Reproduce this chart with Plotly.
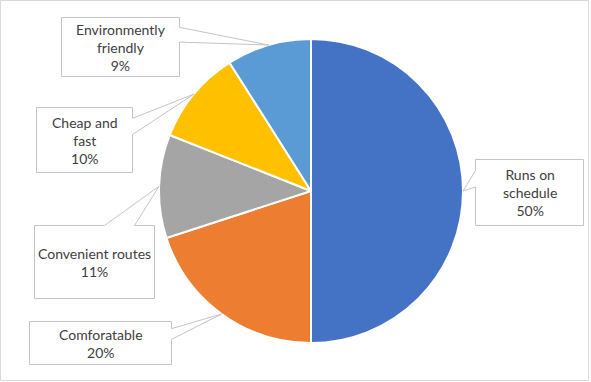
import math
import plotly.graph_objects as go

# ---- data ----
categories = ["Runs on schedule", "Comforatable", "Convenient routes", "Cheap and fast", "Environmently friendly"]
label_text = ["Runs on<br>schedule", "Comforatable", "Convenient routes", "Cheap and<br>fast", "Environmently<br>friendly"]
values = [50, 20, 11, 10, 9]
colors = ["#4472C4", "#ED7D31", "#A5A5A5", "#FFC000", "#5B9BD5"]

# ---- layout (pixels) ----
W, H = 591, 382
CX, CY, R = 311, 191, 152
# label boxes: (left, top, right, bottom) in pixels
boxes = [
    (475.5, 159.5, 583.5, 225.5),
    (29.5, 321.5, 171.5, 364.5),
    (34.5, 225.5, 154.5, 298.5),
    (36.5, 107.5, 132.5, 172.5),
    (61.5, 17.5, 179.5, 76.5),
]


def P(x, y):
    return f"{x / W:.5f},{1 - y / H:.5f}"


def callout_path(box, tx, ty):
    l, t, r, b = box
    w, h = r - l, b - t
    cx, cy = (l + r) / 2, (t + b) / 2
    dxp, dyp = tx - cx, ty - cy
    x1 = l + w * (7 if dxp > 0 else 2) / 12
    x2 = l + w * (10 if dxp > 0 else 5) / 12
    y1 = t + h * (7 if dyp > 0 else 2) / 12
    y2 = t + h * (10 if dyp > 0 else 5) / 12
    horiz = abs(dxp * h / w) > abs(dyp)
    pts = [(l, t)]
    if not horiz and dyp < 0:
        pts += [(x1, t), (tx, ty), (x2, t)]
    pts.append((r, t))
    if horiz and dxp > 0:
        pts += [(r, y1), (tx, ty), (r, y2)]
    pts.append((r, b))
    if not horiz and dyp > 0:
        pts += [(x2, b), (tx, ty), (x1, b)]
    pts.append((l, b))
    if horiz and dxp < 0:
        pts += [(l, y2), (tx, ty), (l, y1)]
    return "M " + " L ".join(P(x, y) for x, y in pts) + " Z"


fig = go.Figure(go.Pie(
    labels=categories,
    values=values,
    sort=False,
    direction="clockwise",
    rotation=0,
    marker=dict(colors=colors, line=dict(color="white", width=2)),
    textinfo="none",
    hoverinfo="label+percent",
    showlegend=False,
    domain=dict(x=[(CX - R) / W, (CX + R) / W], y=[(H - CY - R) / H, (H - CY + R) / H]),
))

total = sum(values)
cum = 0
annotations = []
shapes = [dict(type="rect", xref="paper", yref="paper", x0=0.5 / W, y0=1 - 380.5 / H, x1=588.5 / W, y1=1 - 0.5 / H,
               line=dict(color="#D9D9D9", width=1))]
for lab, v, box in zip(label_text, values, boxes):
    mid = (cum + v / 2) / total * 2 * math.pi
    cum += v
    px = CX + R * math.sin(mid)
    py = CY - R * math.cos(mid)
    pct = round(v / total * 100)
    l, t, r, b = box
    shapes.append(dict(type="path", xref="paper", yref="paper", layer="above",
                       path=callout_path(box, px, py),
                       fillcolor="white", line=dict(color="#C4C4C4", width=1)))
    annotations.append(dict(
        x=(l + r) / 2 / W, y=1 - (t + b) / 2 / H, xref="paper", yref="paper",
        xanchor="center", yanchor="middle",
        text=f"{lab}<br>{pct}%", showarrow=False, align="center",
        font=dict(family="Lato", size=14, color="#404040"),
    ))

fig.update_layout(
    width=W, height=H,
    margin=dict(l=0, r=0, t=0, b=0),
    paper_bgcolor="white", plot_bgcolor="white",
    annotations=annotations,
    shapes=shapes,
)

fig.write_html("out.html", config={"displayModeBar": False},
               post_script="document.body.style.margin='0';document.body.style.overflow='hidden';")
